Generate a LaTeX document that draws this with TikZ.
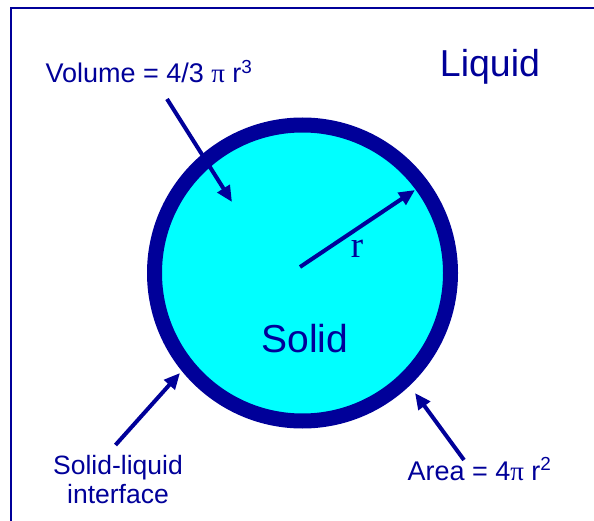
\documentclass[tikz,border=0pt]{standalone}
\usepackage{fontspec}
\setmainfont{Liberation Sans}
\newfontfamily\radiusfont{Liberation Serif}
\definecolor{sphereNavy}{HTML}{000099}
\definecolor{sphereCyan}{HTML}{00FFFF}
\usetikzlibrary{arrows.meta}

\begin{document}
\begin{tikzpicture}[x=1pt, y=-1pt]
                \tikzset{
                    spheretext/.style={text=sphereNavy, anchor=base, inner sep=0pt},
                    pointer/.style={draw=sphereNavy, line width=4pt, -{Triangle[length=16pt, width=14pt]}},
                }
                \useasboundingbox (0,0) rectangle (594,521);

                % Frame (cut off at right and bottom)
                \draw[sphereNavy, line width=1.7pt] (11,521) -- (11,8) -- (594,8);

                % Solid sphere with its interface
                \node[circle, draw=sphereNavy, fill=sphereCyan, line width=15pt,
                    minimum size=296pt, inner sep=0pt] (sphere) at (302.5,273) {};

                % Texts
                \node[spheretext, font=\fontsize{27}{30}\selectfont] (volume) at (149,83)
                    {Volume = 4/3 {\radiusfont π} r\textsuperscript{3}};
                \node[spheretext, font=\fontsize{37.5}{40}\selectfont] (liquid) at (490,77) {Liquid};
                \node[spheretext, font=\fontsize{39}{42}\selectfont] (solid) at (305,352) {Solid};
                \node[spheretext, font=\radiusfont\fontsize{37}{40}\selectfont] (radius) at (357,258) {r};
                \node[spheretext, font=\fontsize{26.5}{29}\selectfont, align=center] (interface) at (118,503)
                    {Solid-liquid\\interface};
                \node[spheretext, font=\fontsize{27}{30}\selectfont] (area) at (479.5,480)
                    {Area = 4{\radiusfont π} r\textsuperscript{2}};

                % Arrow ends
                \coordinate (volTail) at (167,99);
                \coordinate (volTip) at (232,202);
                \coordinate (centre) at (300,267);
                \coordinate (radTip) at (415,190);
                \coordinate (faceTail) at (115.5,445);
                \coordinate (faceTip) at (180,373);
                \coordinate (areaTail) at (464,460);
                \coordinate (areaTip) at (415,393);

                % Arrows
                \draw[pointer] (volTail) -- (volTip);
                \draw[pointer] (centre) -- (radTip);
                \draw[pointer] (faceTail) -- (faceTip);
                \draw[pointer] (areaTail) -- (areaTip);
            \end{tikzpicture}
\end{document}
